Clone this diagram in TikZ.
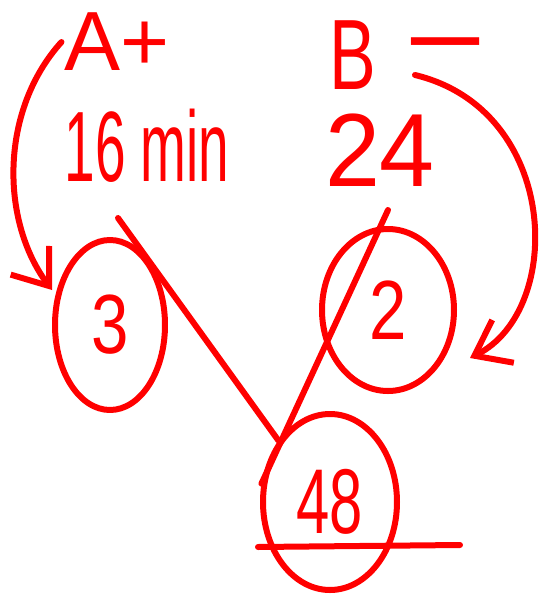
\documentclass[tikz,border=0pt]{standalone}
\usepackage{fontspec}
\setmainfont{Liberation Sans}
\usetikzlibrary{shapes.geometric,arrows.meta}

\begin{document}
\begin{tikzpicture}[x=0.5pt,y=-0.5pt,red,line width=3pt,line cap=round,line join=round,
  every node/.style={text=red,inner sep=0pt},
  ring/.style={ellipse,draw=red,line width=3pt}]
  \useasboundingbox (0,0) rectangle (546,596);

  % Etiquetas de arriba
  \node (lA) at (117,42) {\fontsize{42}{42}\selectfont A+};
  \node (t16) at (147,146) {\fontsize{50}{50}\selectfont\scalebox{0.55}[1]{16 min}};
  \node (lB) at (353,55) {\fontsize{50}{50}\selectfont\scalebox{0.7}[1]{B}};
  \node (mB) at (445,58) {\fontsize{54}{54}\selectfont\scalebox{1.3}[1]{−}};
  \node (t24) at (380,150) {\fontsize{52}{52}\selectfont\scalebox{0.95}[1]{24}};

  % Elipses con los valores
  \node[ring,minimum width=55pt,minimum height=85pt] (n3) at (110,325)
    {\fontsize{42}{42}\selectfont\scalebox{0.8}[1]{3}};
  \node[ring,minimum width=66pt,minimum height=81pt] (n2) at (388,310)
    {\fontsize{42}{42}\selectfont\scalebox{0.8}[1]{2}};
  \node[ring,minimum width=67pt,minimum height=88pt] (n48) at (330,502)
    {\fontsize{46}{46}\selectfont\scalebox{0.65}[1]{48}};

  % Puntos sueltos
  \coordinate (s16) at (118,218);
  \coordinate (s24) at (388,210);
  \coordinate (sB) at (415,75);
  \coordinate (tA) at (52,290);
  \coordinate (tB) at (470,358);
  \coordinate (u1) at (258,547);
  \coordinate (u2) at (460,545);

  % Lineas hacia 48
  \draw (s16) -- (n48.130);
  \draw (s24) -- (n48.165);

  % Flechas curvas
  \draw[-{Straight Barb[length=16pt,width=24pt]}] (lA.west) .. controls (0,110) and (0,220) .. (tA);
  \draw[-{Straight Barb[length=16pt,width=24pt]}] (sB) .. controls (560,110) and (565,310) .. (tB);

  % Subrayado
  \draw (u1) -- (u2);
\end{tikzpicture}
\end{document}
